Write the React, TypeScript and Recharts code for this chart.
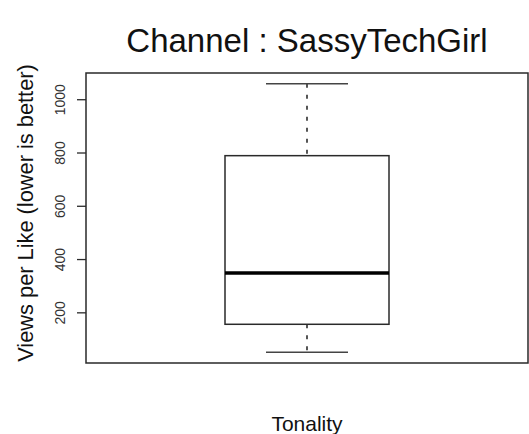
import React from 'react';
import { ComposedChart, Bar, XAxis, YAxis, ReferenceArea } from 'recharts';

// box plot summary for the single group
const categories = ['Tonality'];
const whiskerLow = [52];
const q1 = [157];
const median = [350];
const q3 = [790];
const whiskerHigh = [1060];
const yTicks = [200, 400, 600, 800, 1000];

const data = categories.map((name, i) => ({
    name,
    low: whiskerLow[i],
    q1: q1[i],
    median: median[i],
    q3: q3[i],
    high: whiskerHigh[i],
}));

// R style axis range: data range padded by 4% on each side
const lo = Math.min(...whiskerLow);
const hi = Math.max(...whiskerHigh);
const pad = (hi - lo) * 0.04;
const yMin = lo - pad;
const yMax = hi + pad;

const FONT = '"Liberation Sans", Arial, sans-serif';
const LINE = '#2a2a2a';

const BoxShape = (props: any) => {
    const { x, y, width, height, payload } = props;
    const top = Math.min(y, y + height);
    const bottom = Math.max(y, y + height);
    const toPx = (v: number) => bottom - ((v - payload.low) / (payload.high - payload.low)) * (bottom - top);
    const cx = x + width / 2;
    const capHalf = width / 4;
    const yQ1 = toPx(payload.q1);
    const yQ3 = toPx(payload.q3);
    const yMed = toPx(payload.median);
    return (
        <g>
            <line x1={cx} x2={cx} y1={top} y2={yQ3} stroke="#444" strokeWidth={1.8} strokeDasharray="4 7" />
            <line x1={cx} x2={cx} y1={yQ1} y2={bottom} stroke="#444" strokeWidth={1.8} strokeDasharray="4 7" />
            <line x1={cx - capHalf} x2={cx + capHalf} y1={top} y2={top} stroke="#444" strokeWidth={1.6} />
            <line x1={cx - capHalf} x2={cx + capHalf} y1={bottom} y2={bottom} stroke="#444" strokeWidth={1.6} />
            <rect x={x} y={yQ3} width={width} height={yQ1 - yQ3} fill="#fff" stroke={LINE} strokeWidth={1.5} />
            <line x1={x} x2={x + width} y1={yMed} y2={yMed} stroke="#000" strokeWidth={3.5} />
        </g>
    );
};

const YTick = (props: any) => {
    const { x, y, payload } = props;
    const bx = x - 10;
    return (
        <text x={bx} y={y} transform={`rotate(-90, ${bx}, ${y})`} textAnchor="middle" fontSize={14} fill="#333" fontFamily={FONT}>
            {payload.value}
        </text>
    );
};

const YLabel = (props: any) => {
    const { viewBox } = props;
    const cy = viewBox.y + viewBox.height / 2 - 5;
    const bx = 33;
    return (
        <text x={bx} y={cy} transform={`rotate(-90, ${bx}, ${cy})`} textAnchor="middle" fontSize={21.8} fill="#111" fontFamily={FONT}>
            Views per Like (lower is better)
        </text>
    );
};

const App = () => {
    return (
        <div style={{ position: 'absolute', left: 0, top: 0, width: 529, height: 434, background: '#fff', fontFamily: FONT }}>
            <div
                style={{ position: 'absolute', left: 86, top: 24, width: 442, textAlign: 'center', fontSize: 33, lineHeight: 1, color: '#111' }}
            >
                Channel : SassyTechGirl
            </div>
            <ComposedChart width={529} height={434} data={data} margin={{ top: 73, right: 1, bottom: 71, left: 0 }}>
                <XAxis dataKey="name" hide />
                <YAxis
                    type="number"
                    domain={[yMin, yMax]}
                    ticks={yTicks}
                    allowDataOverflow
                    width={86}
                    axisLine={false}
                    tickSize={9}
                    tickLine={{ stroke: LINE, strokeWidth: 1.3 }}
                    tick={<YTick />}
                    label={<YLabel />}
                />
                <ReferenceArea y1={yMin} y2={yMax} fill="none" stroke={LINE} strokeWidth={1.5} fillOpacity={0} />
                <Bar
                    dataKey={(d: any) => [d.low, d.high]}
                    barSize={164}
                    shape={<BoxShape />}
                    isAnimationActive={false}
                />
            </ComposedChart>
            <div
                style={{ position: 'absolute', left: 86, top: 413, width: 442, textAlign: 'center', fontSize: 21, lineHeight: 1, color: '#111' }}
            >
                Tonality
            </div>
        </div>
    );
};

export default App;
